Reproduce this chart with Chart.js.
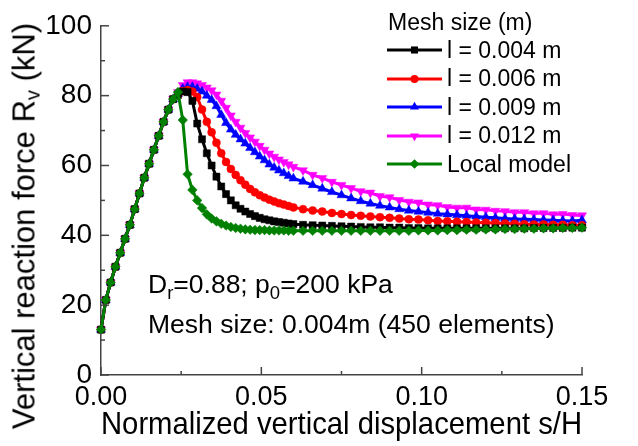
<!DOCTYPE html>
<html>
<head>
<meta charset="utf-8">
<script src="https://cdn.jsdelivr.net/npm/chart.js@4/dist/chart.umd.min.js"></script>
<style>
html,body{margin:0;padding:0;background:#fff;}
#wrap{position:relative;width:638px;height:446px;font-family:"Liberation Sans",Arial,sans-serif;color:#000;overflow:hidden;}
#c{position:absolute;left:0;top:0;}
.ann{position:absolute;white-space:nowrap;font-size:26.5px;line-height:26px;}
.ann sub{font-size:70%;line-height:0;vertical-align:-0.3em;}
#ytitle{position:absolute;left:24px;top:226px;transform:translate(-50%,-50%) rotate(-90deg);white-space:nowrap;font-size:31px;line-height:31px;}
#ytitle sub{font-size:65%;line-height:0;vertical-align:-0.25em;}
.lrow{position:absolute;height:28px;display:flex;align-items:center;white-space:nowrap;font-size:23px;}
.lrow canvas{margin-right:4px;}
</style>
</head>
<body>
<div id="wrap">
  <canvas id="c" width="638" height="446"></canvas>
  <div id="ytitle">Vertical reaction force R<sub>v</sub> (kN)</div>
  <div class="ann" style="left:148px;top:271px;">D<sub>r</sub>=0.88; p<sub>0</sub>=200 kPa</div>
  <div class="ann" style="left:148px;top:311px;">Mesh size: 0.004m (450 elements)</div>
  <div id="legend"></div>
</div>
<script>
// ---- data ----
const xValues = [0,0.0015,0.003,0.0045,0.006,0.0075,0.009,0.0105,0.012,0.0135,0.015,0.0165,0.018,0.0195,0.021,0.0225,
  0.024,0.0255,0.027,0.0285,0.030,0.0315,0.033,0.0345,0.036,0.0375,0.039,0.0405,0.042,0.0435,0.045,0.0465,0.048,0.0495,0.051,0.0525,0.054,0.0555,0.057,0.0585,0.060,
  0.063,0.066,0.069,0.072,0.075,0.078,0.081,0.084,0.087,0.090,0.093,0.096,0.099,0.102,0.105,0.108,0.111,0.114,0.117,0.120,0.123,0.126,0.129,0.132,0.135,0.138,0.141,0.144,0.147,0.150];

const mesh004 = [13,21.5,26.5,31,35,39,43,47.5,52,56.5,60.5,64.5,68.5,72.5,76,79,
  80.2,81.2,81,78.5,72,67.5,63.5,60,56.8,54,51.8,50,48.6,47.6,46.8,46.1,45.5,45,44.6,44.3,44,43.8,43.6,43.4,43.2,
  43,42.9,42.8,42.7,42.6,42.5,42.4,42.3,42.3,42.2,42.2,42.1,42.1,42,42,42,42,42,42,42,42,42,42,42,42.1,42.1,42.1,42.1,42.2,42.2];

const mesh006 = [13,21.5,26.5,31,35,39,43,47.5,52,56.5,60.5,64.5,68.5,72.5,76,79,
  80.3,81.3,81.6,81.2,79.6,76,72.5,69.5,66.5,63.5,61,59,57.3,55.8,54.5,53.3,52.3,51.5,50.8,50.2,49.7,49.2,48.8,48.4,48,
  47.5,47.1,46.8,46.4,46.1,45.8,45.6,45.4,45.2,45.0,44.8,44.6,44.5,44.3,44.1,44.0,43.9,43.8,43.7,43.6,43.5,43.4,43.3,43.2,43.1,43.1,43.0,43.0,42.9,42.9];

const mesh009 = [13,21.5,26.5,31,35,39,43,47.5,52,56.5,60.5,64.5,68.5,72.5,76,79,
  80.5,82,82.5,82.5,82,81.2,80,78.8,77,74.5,72.2,70.3,68.8,67.5,66.3,65,63.8,62.6,61.5,60.3,59.4,58.6,57.8,57,56.3,
  55.4,54.4,53.4,52.4,51.5,50.6,49.8,49.1,48.5,48.0,47.5,47.1,46.8,46.5,46.2,46.0,45.8,45.6,45.4,45.2,45.0,44.8,44.7,44.6,44.5,44.4,44.3,44.2,44.1,44.3];

const mesh012 = [13,21.5,26.5,31,35,39,43,47.5,52,56.5,60.5,64.5,68.5,72.5,76,79,
  81,83,83.8,83.8,83.5,83,82.3,81.5,80.3,78.5,76.5,74.3,72.5,70.8,69.3,68,66.8,65.6,64.5,63.4,62.5,61.7,61,60.3,59.6,
  58.6,57.3,56.4,55.3,54.4,53.5,52.6,52.2,51.2,50.9,50.1,49.6,49.4,48.8,48.6,48.1,47.9,47.9,47.4,47.3,47.0,46.9,46.6,46.6,46.3,46.3,46.0,46.1,45.8,45.7];

const localModel = [13,21.5,26.5,31,35,39,43,47.5,52,56.5,60.5,64.5,68.5,72.5,76,79,
  81,73,57.5,53,50,47.8,46,44.8,44,43.3,42.8,42.4,42.1,41.9,41.7,41.6,41.5,41.5,41.5,41.4,41.4,41.4,41.4,41.3,41.3,
  41.3,41.3,41.3,41.3,41.3,41.3,41.3,41.3,41.3,41.3,41.3,41.3,41.4,41.4,41.4,41.5,41.5,41.6,41.6,41.7,41.7,41.8,41.8,41.9,41.9,42.0,42.0,42.1,42.1,42.2];

const seriesLabels = ['l = 0.004 m','l = 0.006 m','l = 0.009 m','l = 0.012 m','Local model'];
const xTickValues = [0, 0.05, 0.10, 0.15];
const xMinorValues = [0.025, 0.075, 0.125];
const yTickValues = [0, 20, 40, 60, 80, 100];
const yMinorValues = [10, 30, 50, 70, 90];

// ---- styles ----
const styles = [
  {color:'#000000', shape:'rect', r:5, order:1},
  {color:'#ff0000', shape:'circle', r:4, order:2},
  {color:'#0000ff', shape:'triangle', r:5.2, rot:0, order:3},
  {color:'#ff00ff', shape:'triangle', r:5.2, rot:180, order:4},
  {color:'#008000', shape:'rectRot', r:4.8, order:0}
];
const allSeries = [mesh004, mesh006, mesh009, mesh012, localModel];
const FONT = '"Liberation Sans", Arial, sans-serif';
const AXIS = '#444';

const datasets = allSeries.map((vals, i) => ({
  label: seriesLabels[i],
  data: vals.map((v, j) => ({x: xValues[j], y: v})),
  borderColor: styles[i].color,
  backgroundColor: styles[i].color,
  pointBackgroundColor: styles[i].color,
  pointBorderColor: styles[i].color,
  pointBorderWidth: 0.5,
  pointStyle: styles[i].shape,
  pointRotation: styles[i].rot || 0,
  pointRadius: styles[i].r,
  borderWidth: 3,
  tension: 0,
  order: styles[i].order,
  clip: 6
}));

const isMajor = (v, step) => Math.abs(v / step - Math.round(v / step)) < 1e-6;

const tickPlugin = {
  id: 'inTicks',
  afterDatasetsDraw(chart) {
    const {ctx, chartArea: a, scales: {x, y}} = chart;
    ctx.save();
    ctx.strokeStyle = AXIS;
    ctx.lineWidth = 1.5;
    xTickValues.concat(xMinorValues).forEach(v => {
      const px = x.getPixelForValue(v);
      const len = isMajor(v, 0.05) ? 8 : 4;
      ctx.beginPath(); ctx.moveTo(px, a.bottom); ctx.lineTo(px, a.bottom - len); ctx.stroke();
    });
    yTickValues.concat(yMinorValues).forEach(v => {
      const py = y.getPixelForValue(v);
      const len = isMajor(v, 20) ? 8 : 4;
      ctx.beginPath(); ctx.moveTo(a.left, py); ctx.lineTo(a.left + len, py); ctx.stroke();
    });
    ctx.restore();
  }
};

new Chart(document.getElementById('c'), {
  type: 'line',
  data: {datasets},
  options: {
    responsive: false,
    animation: false,
    devicePixelRatio: 1,
    layout: {padding: {left: 0, top: 20, right: 56, bottom: 0}},
    plugins: {legend: {display: false}, tooltip: {enabled: false}},
    scales: {
      x: {
        type: 'linear', min: 0, max: 0.15,
        afterBuildTicks: s => { s.ticks = xTickValues.map(v => ({value: v})); },
        afterFit: s => { s.height = 71; },
        grid: {display: false, drawTicks: false},
        border: {display: true, color: AXIS, width: 1.5},
        ticks: {color: '#000', font: {family: FONT, size: 27}, padding: 6, maxRotation: 0,
                callback: v => Number(v).toFixed(2)},
        title: {display: true, text: 'Normalized vertical displacement s/H', color: '#000',
                font: {family: FONT, size: 30.5}, padding: {top: 0, bottom: 2}}
      },
      y: {
        type: 'linear', min: 0, max: 100,
        afterBuildTicks: s => { s.ticks = yTickValues.map(v => ({value: v})); },
        afterFit: s => { s.width = 101; },
        grid: {display: false, drawTicks: false},
        border: {display: true, color: AXIS, width: 1.5},
        ticks: {color: '#000', font: {family: FONT, size: 28}, padding: 9}
      }
    }
  },
  plugins: [tickPlugin]
});

// ---- HTML legend ----
function drawMarker(ctx, st, x, y) {
  const r = st.r;
  ctx.fillStyle = st.color;
  ctx.beginPath();
  if (st.shape === 'rect') {
    const s = r * Math.SQRT1_2; ctx.rect(x - s, y - s, 2 * s, 2 * s);
  } else if (st.shape === 'circle') {
    ctx.arc(x, y, r, 0, Math.PI * 2);
  } else if (st.shape === 'triangle') {
    const d = st.rot === 180 ? -1 : 1;
    ctx.moveTo(x, y - d * r);
    ctx.lineTo(x - r * 0.866, y + d * r * 0.5);
    ctx.lineTo(x + r * 0.866, y + d * r * 0.5);
    ctx.closePath();
  } else if (st.shape === 'rectRot') {
    ctx.moveTo(x, y - r); ctx.lineTo(x + r, y); ctx.lineTo(x, y + r); ctx.lineTo(x - r, y); ctx.closePath();
  }
  ctx.fill();
}
const legend = document.getElementById('legend');
const title = document.createElement('div');
title.className = 'lrow';
title.style.left = '388px'; title.style.top = '8px';
title.textContent = 'Mesh size (m)';
legend.appendChild(title);
seriesLabels.forEach((lab, i) => {
  const row = document.createElement('div');
  row.className = 'lrow';
  row.style.left = '386px';
  row.style.top = (36 + i * 28.6) + 'px';
  const cv = document.createElement('canvas');
  cv.width = 57; cv.height = 16;
  const cx = cv.getContext('2d');
  cx.strokeStyle = styles[i].color; cx.lineWidth = 3;
  cx.beginPath(); cx.moveTo(1, 8); cx.lineTo(56, 8); cx.stroke();
  drawMarker(cx, styles[i], 28.5, 8);
  row.appendChild(cv);
  const sp = document.createElement('span');
  sp.textContent = lab;
  row.appendChild(sp);
  legend.appendChild(row);
});
</script>
</body>
</html>
